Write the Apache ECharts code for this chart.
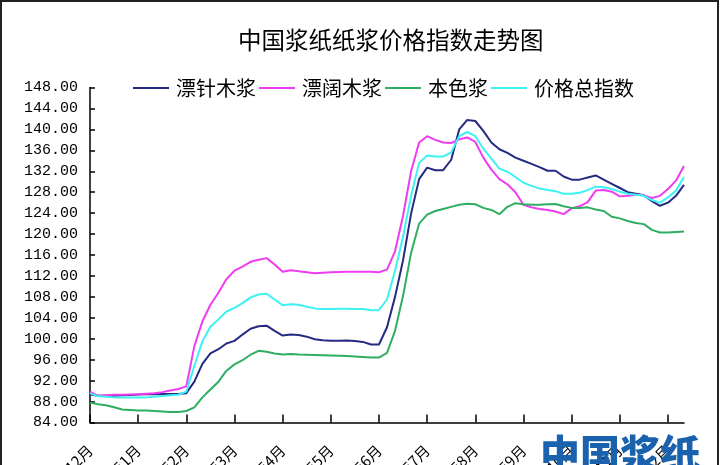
<!DOCTYPE html>
<html>
<head>
<meta charset="utf-8">
<script src="https://cdn.jsdelivr.net/npm/echarts@6/dist/echarts.min.js"></script>
<style>
  html, body { margin: 0; padding: 0; background: #fff; }
  #chart { width: 720px; height: 465px; }
</style>
</head>
<body>
<div id="chart"></div>
<script>
//Month tick labels (one every 6 points)
const month_labels = ["2016年12月", "2017年1月", "2017年2月", "2017年3月", "2017年4月", "2017年5月", "2017年6月", "2017年7月", "2017年8月", "2017年9月", "2017年10月", "2017年11月", "2017年12月"];
const points_per_month = 6;

//Series values
const softwood = [89.4, 89.1, 89.1, 89.1, 89.2, 89.25, 89.35, 89.4, 89.4, 89.45, 89.45, 89.45, 89.6, 91.8, 95.2, 97.2, 98.0, 99.1, 99.6, 100.8, 101.9, 102.4, 102.5, 101.5, 100.6, 100.8, 100.7, 100.4, 99.9, 99.7, 99.6, 99.6, 99.65, 99.55, 99.4, 98.9, 98.9, 102.2, 108.0, 115.0, 123.9, 130.5, 132.7, 132.2, 132.2, 134.2, 140.0, 141.8, 141.6, 139.7, 137.5, 136.2, 135.5, 134.6, 134.0, 133.4, 132.8, 132.1, 132.1, 131.0, 130.4, 130.4, 130.8, 131.2, 130.4, 129.6, 128.8, 128.0, 127.7, 127.4, 126.3, 125.4, 126.0, 127.3, 129.4];
const hardwood = [89.9, 89.1, 89.2, 89.3, 89.3, 89.35, 89.4, 89.5, 89.6, 89.8, 90.1, 90.4, 90.9, 98.6, 103.3, 106.5, 108.8, 111.4, 113.0, 113.8, 114.7, 115.1, 115.4, 114.2, 112.8, 113.1, 112.9, 112.7, 112.5, 112.6, 112.7, 112.75, 112.8, 112.8, 112.8, 112.8, 112.7, 113.2, 116.7, 123.5, 132.0, 137.5, 138.7, 138.0, 137.5, 137.4, 138.1, 138.45, 137.6, 134.6, 132.3, 130.5, 129.5, 128.0, 125.6, 125.1, 124.8, 124.6, 124.3, 123.8, 124.9, 125.3, 126.1, 128.3, 128.4, 128.1, 127.2, 127.3, 127.5, 127.4, 126.9, 127.3, 128.6, 130.2, 133.0];
const unbleached = [87.8, 87.5, 87.3, 86.9, 86.5, 86.4, 86.3, 86.3, 86.2, 86.1, 86.0, 86.0, 86.2, 86.9, 88.8, 90.3, 91.8, 93.9, 95.1, 95.9, 96.95, 97.7, 97.5, 97.2, 97.0, 97.1, 97.0, 96.95, 96.9, 96.85, 96.8, 96.75, 96.7, 96.6, 96.5, 96.4, 96.4, 97.3, 101.5, 108.2, 116.4, 122.0, 123.7, 124.4, 124.8, 125.2, 125.6, 125.8, 125.7, 125.0, 124.6, 123.8, 125.2, 125.9, 125.7, 125.6, 125.6, 125.7, 125.75, 125.3, 125.0, 125.0, 125.1, 124.7, 124.4, 123.3, 123.0, 122.5, 122.1, 121.9, 120.8, 120.3, 120.3, 120.4, 120.5];
const total_index = [89.6, 89.0, 88.9, 88.8, 88.8, 88.8, 88.8, 88.8, 88.9, 89.05, 89.2, 89.3, 89.9, 94.8, 99.5, 102.3, 103.7, 105.2, 105.9, 106.8, 107.9, 108.45, 108.6, 107.5, 106.4, 106.6, 106.5, 106.1, 105.8, 105.7, 105.7, 105.75, 105.75, 105.7, 105.7, 105.45, 105.5, 107.5, 113.0, 119.5, 127.3, 133.6, 135.0, 134.8, 134.8, 135.6, 138.7, 139.5, 138.7, 136.3, 134.4, 132.5, 131.9, 130.9, 129.8, 129.2, 128.7, 128.4, 128.2, 127.7, 127.7, 127.9, 128.4, 129.05, 128.95, 128.6, 128.1, 127.7, 127.5, 127.3, 126.5, 126.0, 127.0, 128.3, 130.9];

//Categories: one per data point, month label on every 6th
let categories = softwood.map((local_value, i) => {
	let local_month = month_labels[Math.floor(i/points_per_month)];
	return (i % points_per_month === 0) ? local_month : `${local_month}-${i % points_per_month + 1}`;
});

let chart = echarts.init(document.getElementById("chart"), null, { renderer: "canvas" });

let series_list = [
	{ name: "漂针木浆", data: softwood, color: "#252a82" },
	{ name: "漂阔木浆", data: hardwood, color: "#f03cf0" },
	{ name: "本色浆", data: unbleached, color: "#2fae62" },
	{ name: "价格总指数", data: total_index, color: "#3cf2f2" }
];

let axis_font = "'Liberation Mono', monospace";
let cjk_font = "'Noto Sans CJK SC', sans-serif";

chart.setOption({
	animation: false,
	backgroundColor: "#ffffff",
	title: {
		text: "中国浆纸纸浆价格指数走势图",
		left: 238,
		top: 28,
		padding: 0,
		textStyle: { color: "#000", fontSize: 23.5, fontWeight: "normal", fontFamily: cjk_font }
	},
	legend: {
		left: 133,
		top: 78,
		padding: 0,
		itemGap: 3,
		itemWidth: 36,
		itemHeight: 2,
		icon: "rect",
		textStyle: { color: "#000", fontSize: 20, lineHeight: 20, fontFamily: cjk_font, padding: [0, 0, 0, 2] },
		data: series_list.map((local_series) => local_series.name)
	},
	grid: {
		left: 90,
		right: 36,
		top: 87.5,
		bottom: 42.5,
		outerBoundsMode: "none"
	},
	xAxis: {
		type: "category",
		boundaryGap: false,
		data: categories,
		axisLine: { lineStyle: { color: "#000", width: 1.5 } },
		axisTick: { inside: true, length: 8, interval: points_per_month - 1, lineStyle: { color: "#000", width: 1.5 } },
		axisLabel: {
			interval: points_per_month - 1,
			rotate: 45,
			margin: 25,
			color: "#000",
			fontSize: 15,
			fontFamily: cjk_font
		},
		splitLine: { show: false }
	},
	yAxis: {
		type: "value",
		min: 84,
		max: 148,
		interval: 4,
		axisLine: { show: true, lineStyle: { color: "#000", width: 1.5 } },
		axisTick: { show: true, inside: true, length: 5, lineStyle: { color: "#000", width: 1.5 } },
		axisLabel: {
			margin: 12,
			color: "#000",
			fontSize: 15,
			fontFamily: axis_font,
			formatter: (local_value) => local_value.toFixed(2)
		},
		splitLine: { show: false }
	},
	series: series_list.map((local_series) => ({
		name: local_series.name,
		type: "line",
		data: local_series.data,
		symbol: "none",
		color: local_series.color,
		lineStyle: { width: 2, color: local_series.color }
	})),
	graphic: [
		{
			type: "rect",
			silent: true,
			z: 100,
			shape: { x: 1, y: 1, width: 717, height: 500 },
			style: { fill: "none", stroke: "#222", lineWidth: 2 }
		},
		{
			type: "text",
			silent: true,
			z: 100,
			left: 540,
			top: 434,
			style: {
				text: "中国浆纸",
				fill: "#1a62ad",
				font: `900 40px ${cjk_font}`
			}
		}
	]
});
</script>
</body>
</html>
